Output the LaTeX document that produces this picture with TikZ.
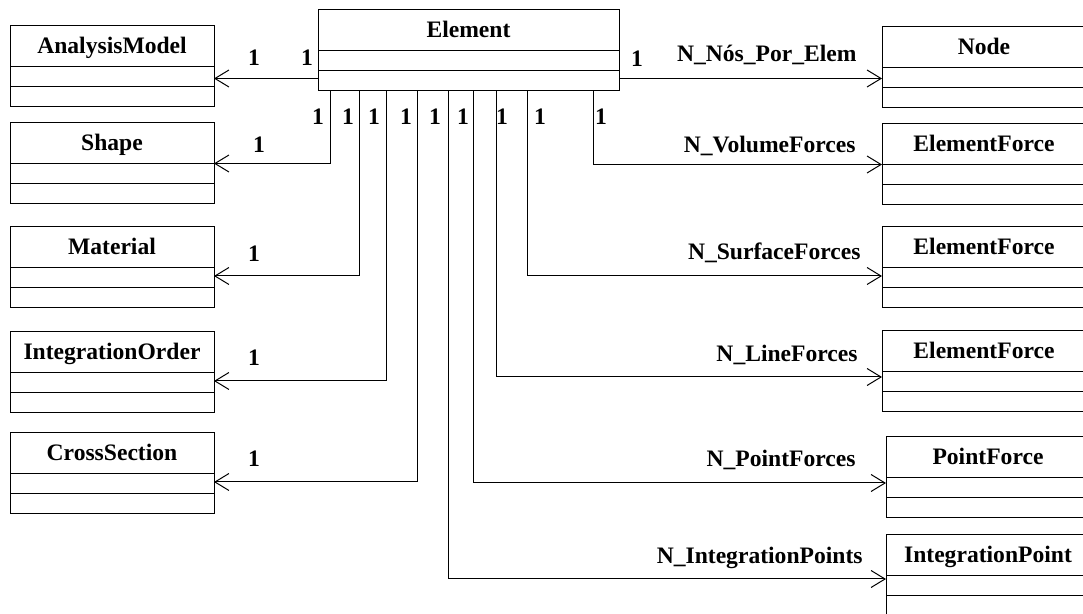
\documentclass[tikz,border=0pt]{standalone}
\usepackage{fontspec}
\setmainfont{Liberation Serif}
\usetikzlibrary{arrows.meta}

\tikzset{
  classbox/.style={draw, line width=0.5pt, minimum height=40.5pt, inner sep=0pt, outer sep=0pt},
  classname/.style={inner sep=0pt, font=\bfseries\fontsize{11.8}{14}\selectfont},
  mult/.style={inner sep=0pt, font=\bfseries\fontsize{11.8}{14}\selectfont},
  role/.style={inner sep=0pt, anchor=base east, font=\bfseries\fontsize{11.8}{14}\selectfont},
  assoc/.style={line width=0.5pt, -{Straight Barb[length=7pt,width=8.5pt]}}
}

% class box: [width] name, x, y (top left), title
\newcommand{\umlclass}[5][102pt]{%
  \node[classbox, minimum width=#1, anchor=north west] (#2) at (#3,#4) {};
  \node[classname, anchor=base] (#2-name) at ([yshift=-13.75pt]#2.north) {#5};
  \draw[line width=0.5pt] ([yshift=-20.3pt]#2.north west) -- ([yshift=-20.3pt]#2.north east);
  \draw[line width=0.5pt] ([yshift=-30.4pt]#2.north west) -- ([yshift=-30.4pt]#2.north east);
}

\begin{document}
\begin{tikzpicture}[x=0.5pt, y=-0.5pt]
  \useasboundingbox (0,0) rectangle (1083,614);
  \clip (0,0) rectangle (1083,614);

  \umlclass[150.5pt]{element}{318}{10}{Element}

  \umlclass{analysis}{10}{26}{AnalysisModel}
  \umlclass{shape}{10}{123}{Shape}
  \umlclass{material}{10}{227}{Material}
  \umlclass{intorder}{10}{332}{IntegrationOrder}
  \umlclass{cross}{10}{433}{CrossSection}

  \umlclass{node}{882}{27}{Node}
  \umlclass{vforce}{882}{124}{ElementForce}
  \umlclass{sforce}{882}{227}{ElementForce}
  \umlclass{lforce}{882}{331}{ElementForce}
  \umlclass{pforce}{886}{437}{PointForce}
  \umlclass{ipoint}{886}{535}{IntegrationPoint}

  % associations to the left
  \draw[assoc] ([yshift=6.25pt]element.south west) -- ([yshift=-6pt]analysis.east);
  \draw[assoc] ([xshift=6pt]element.south west) |- (shape.east);
  \draw[assoc] ([xshift=20.5pt]element.south west) |- ([yshift=-4.25pt]material.east);
  \draw[assoc] ([xshift=34pt]element.south west) |- ([yshift=-4.25pt]intorder.east);
  \draw[assoc] ([xshift=49.5pt]element.south west) |- ([yshift=-4.25pt]cross.east);

  % associations to the right
  \draw[assoc] ([yshift=6.25pt]element.south east) -- ([yshift=-5.5pt]node.west);
  \draw[assoc] ([xshift=137.5pt]element.south west) |- (vforce.west);
  \draw[assoc] ([xshift=104.5pt]element.south west) |- ([yshift=-4.25pt]sforce.west);
  \draw[assoc] ([xshift=89pt]element.south west) |- ([yshift=-2.75pt]lforce.west);
  \draw[assoc] ([xshift=77.5pt]element.south west) |- ([yshift=-2.75pt]pforce.west);
  \draw[assoc] ([xshift=65pt]element.south west) |- ([yshift=-1.75pt]ipoint.west);

  % multiplicities
  \node[mult] (m-an) at (254,57.5) {1};
  \node[mult] (m-el) at (307,57.5) {1};
  \node[mult] (m-no) at (637,58.5) {1};
  \foreach \x [count=\i] in {318,348,374,406,435,463,502,540,601}
    \node[mult] (m-\i) at (\x,116.5) {1};
  \node[mult] (m-sh) at (259,145) {1};
  \node[mult] (m-ma) at (254,253.5) {1};
  \node[mult] (m-io) at (254,358) {1};
  \node[mult] (m-cs) at (254,458.5) {1};

  % roles
  \node[role] (r-no) at (857,62) {N\_Nós\_Por\_Elem};
  \node[role] (r-vf) at (856,153) {N\_VolumeForces};
  \node[role] (r-sf) at (861,260) {N\_SurfaceForces};
  \node[role] (r-lf) at (858,362) {N\_LineForces};
  \node[role] (r-pf) at (856,467) {N\_PointForces};
  \node[role] (r-ip) at (863,564) {N\_IntegrationPoints};
\end{tikzpicture}
\end{document}
